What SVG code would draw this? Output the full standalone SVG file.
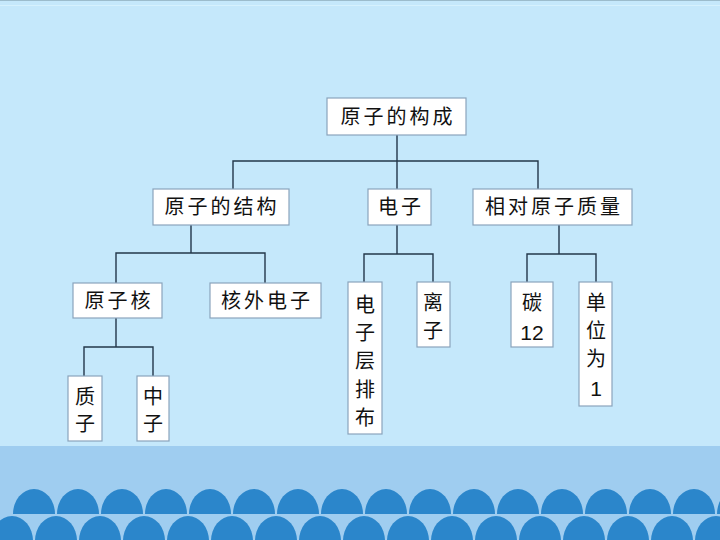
<svg xmlns="http://www.w3.org/2000/svg" xmlns:xlink="http://www.w3.org/1999/xlink" width="720" height="540" viewBox="0 0 720 540">
<style>
.box{fill:#ffffff;stroke:#8aa4bc;stroke-width:1.2}
.t{font-family:"Noto Sans CJK SC","Noto Sans CJK JP",sans-serif;font-size:20px;fill:#111;text-anchor:middle;letter-spacing:3px}
.v{font-family:"Noto Sans CJK SC","Noto Sans CJK JP",sans-serif;font-size:20px;fill:#111;text-anchor:middle}
.n{font-family:"Liberation Sans",Arial,sans-serif;font-size:21px;fill:#111;text-anchor:middle}
.c{fill:none;stroke:#23374a;stroke-width:1.4}
.w{fill:#2b86cb}
</style>
<defs>
<path id="dome" d="M-21,0 A21,25 0 0 1 21,0 Z"/>
<path id="dome2" d="M-21,30 L-21,0 A21,25 0 0 1 21,0 L21,30 Z"/>
</defs>
<rect x="0" y="0" width="720" height="540" fill="#c5e8fb"/>
<line x1="0" y1="0.5" x2="720" y2="0.5" stroke="#9cbccc" stroke-width="1"/>
<line x1="0" y1="5.5" x2="720" y2="5.5" stroke="#d6f1fd" stroke-width="1"/>
<rect x="0" y="446" width="720" height="94" fill="#9fcdf0"/>
<g id="waves" class="w">
<use xlink:href="#dome" x="34" y="514"/><use xlink:href="#dome" x="78" y="514"/><use xlink:href="#dome" x="122" y="514"/><use xlink:href="#dome" x="166" y="514"/><use xlink:href="#dome" x="210" y="514"/><use xlink:href="#dome" x="254" y="514"/><use xlink:href="#dome" x="298" y="514"/><use xlink:href="#dome" x="342" y="514"/><use xlink:href="#dome" x="386" y="514"/><use xlink:href="#dome" x="430" y="514"/><use xlink:href="#dome" x="474" y="514"/><use xlink:href="#dome" x="518" y="514"/><use xlink:href="#dome" x="562" y="514"/><use xlink:href="#dome" x="606" y="514"/><use xlink:href="#dome" x="650" y="514"/><use xlink:href="#dome" x="694" y="514"/><use xlink:href="#dome" x="738" y="514"/>
<use xlink:href="#dome2" x="12" y="541"/><use xlink:href="#dome2" x="56" y="541"/><use xlink:href="#dome2" x="100" y="541"/><use xlink:href="#dome2" x="144" y="541"/><use xlink:href="#dome2" x="188" y="541"/><use xlink:href="#dome2" x="232" y="541"/><use xlink:href="#dome2" x="276" y="541"/><use xlink:href="#dome2" x="320" y="541"/><use xlink:href="#dome2" x="364" y="541"/><use xlink:href="#dome2" x="408" y="541"/><use xlink:href="#dome2" x="452" y="541"/><use xlink:href="#dome2" x="496" y="541"/><use xlink:href="#dome2" x="540" y="541"/><use xlink:href="#dome2" x="584" y="541"/><use xlink:href="#dome2" x="628" y="541"/><use xlink:href="#dome2" x="672" y="541"/><use xlink:href="#dome2" x="716" y="541"/>
</g>
<g id="connectors" class="c">
<path d="M397,135 V161 M233,189 V161 H538 V189 M397,161 V189"/>
<path d="M191,225 V253 M116,283 V253 H265 V283"/>
<path d="M397,225 V254 M364,282 V254 H433 V282"/>
<path d="M559,225 V254 M527,282 V254 H596 V282"/>
<path d="M116,318 V347 M84,376 V347 H153 V376"/>
</g>
<g id="n-root"><rect class="box" x="327" y="98" width="139" height="37"/><text class="t" x="398" y="124">原子的构成</text></g>
<g id="n-structure"><rect class="box" x="153" y="189" width="136" height="36"/><text class="t" x="222" y="214">原子的结构</text></g>
<g id="n-electron"><rect class="box" x="368" y="189" width="63" height="36"/><text class="t" x="401" y="214">电子</text></g>
<g id="n-mass"><rect class="box" x="473" y="189" width="159" height="36"/><text class="t" x="554" y="214">相对原子质量</text></g>
<g id="n-nucleus"><rect class="box" x="73" y="283" width="89" height="35"/><text class="t" x="119" y="308">原子核</text></g>
<g id="n-outer"><rect class="box" x="210" y="283" width="111" height="35"/><text class="t" x="267" y="308">核外电子</text></g>
<g id="n-layers"><rect class="box" x="348" y="282" width="34" height="152"/>
<text class="v" x="365" y="312">电</text><text class="v" x="365" y="340">子</text><text class="v" x="365" y="368">层</text><text class="v" x="365" y="397">排</text><text class="v" x="365" y="425">布</text></g>
<g id="n-ion"><rect class="box" x="417" y="282" width="33" height="65"/><text class="v" x="433" y="310">离</text><text class="v" x="433" y="338">子</text></g>
<g id="n-carbon"><rect class="box" x="511" y="282" width="42" height="65"/><text class="v" x="532" y="310">碳</text><text class="n" x="532" y="340">12</text></g>
<g id="n-unit"><rect class="box" x="579" y="282" width="33" height="124"/><text class="v" x="596" y="310">单</text><text class="v" x="596" y="338">位</text><text class="v" x="596" y="366">为</text><text class="n" x="596" y="396">1</text></g>
<g id="n-proton"><rect class="box" x="68" y="376" width="34" height="65"/><text class="v" x="85" y="404">质</text><text class="v" x="85" y="431">子</text></g>
<g id="n-neutron"><rect class="box" x="137" y="376" width="32" height="65"/><text class="v" x="153" y="404">中</text><text class="v" x="153" y="431">子</text></g>
</svg>
